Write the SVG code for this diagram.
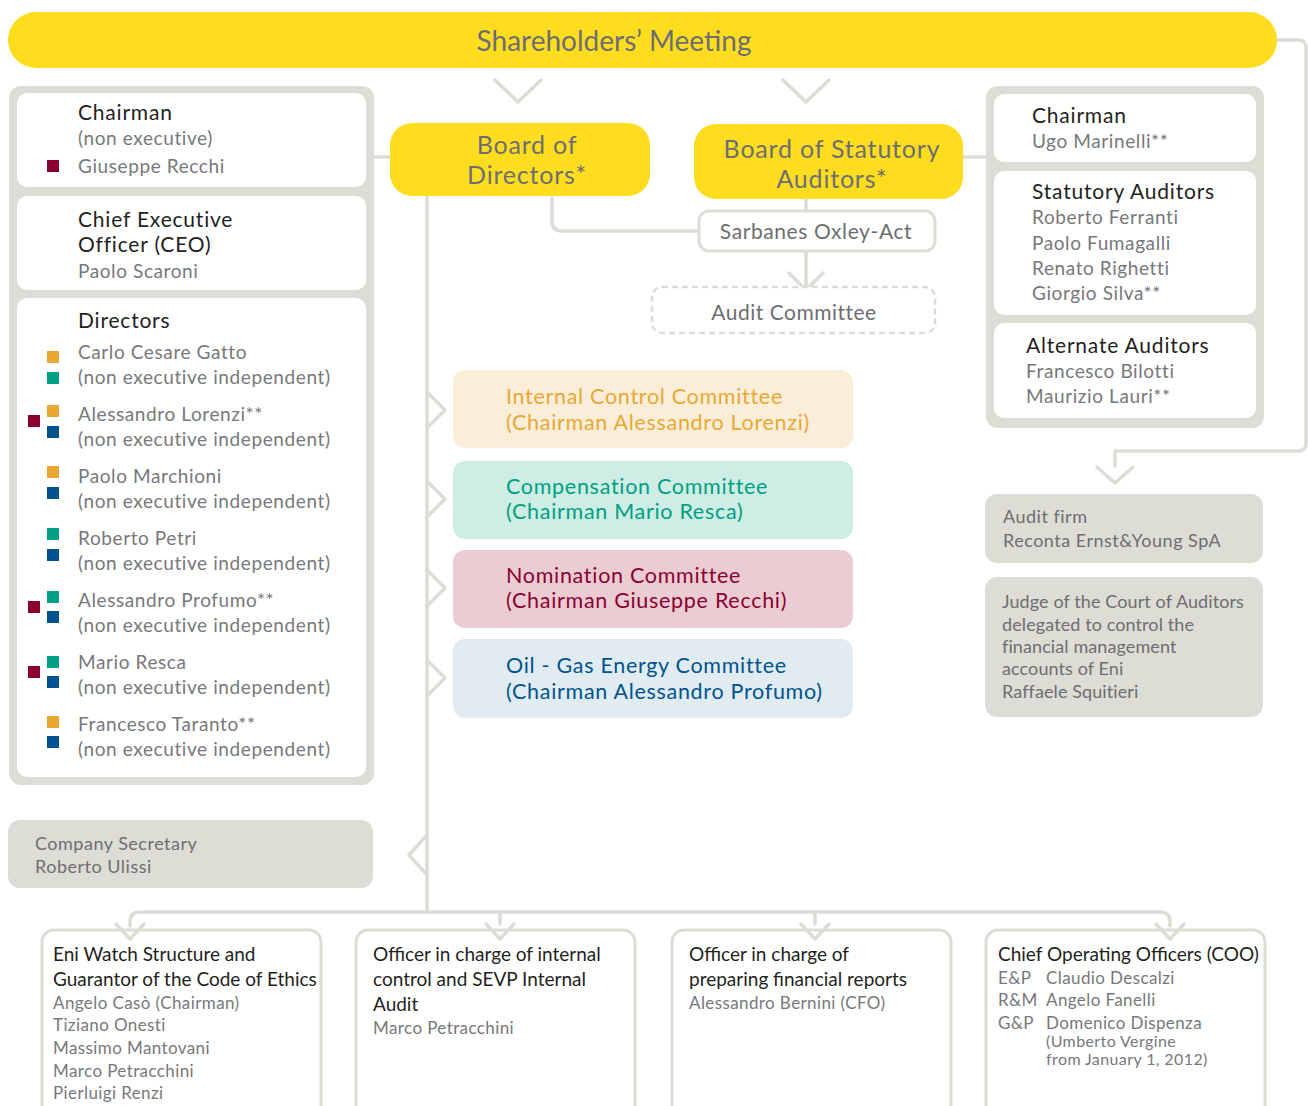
<svg xmlns="http://www.w3.org/2000/svg" width="1308" height="1106" viewBox="0 0 1308 1106">
<style>
text{font-family:Lato,"Open Sans","Liberation Sans",sans-serif}
.line{fill:none;stroke:#DDDCD5;stroke-width:3.5;stroke-linecap:round;stroke-linejoin:round}
.chev{fill:none;stroke:#DDDCD5;stroke-width:3.5;stroke-linecap:round;stroke-linejoin:round}
.yel{fill:#FEDD1F}
.ytxt{fill:#6D6E71;font-size:25px;letter-spacing:0.8px;text-anchor:middle}
.panel{fill:#DDDCD5}
.inner{fill:#FFFFFF}
.hd{fill:#231F20;font-size:21px;letter-spacing:0.8px}
.nm{fill:#77787B;font-size:19px;letter-spacing:0.6px}
.bhd{fill:#231F20;font-size:19px}
.bnm{fill:#77787B;font-size:17px;letter-spacing:0.4px}
.gtx{fill:#6D6E71;font-size:18px;letter-spacing:0.5px}
.jtx{fill:#6D6E71;font-size:18px;letter-spacing:0.1px}
.bbox{fill:#FFFFFF;stroke:#DDDCD5;stroke-width:3}
.sq-r{fill:#8C0030}.sq-o{fill:#E8A833}.sq-t{fill:#00A082}.sq-b{fill:#00538E}
.ctx{font-size:21.5px;letter-spacing:0.7px}
.sm{font-size:16px}
</style>

<g id="connectors">
  <path class="line" d="M1277,40 L1298,40 Q1306,40 1306,48 L1306,443 Q1306,451 1298,451 L1115,451 L1115,466"/>
  <polyline class="chev" points="1097,467 1115,483 1133,467"/>
  <polyline class="chev" points="495,80 518,102 541,80"/>
  <polyline class="chev" points="783,80 806,102 829,80"/>
  <line class="line" x1="373" y1="157" x2="390" y2="157"/>
  <line class="line" x1="963" y1="157" x2="987" y2="157"/>
  <path class="line" d="M552,198 L552,221 Q552,231 562,231 L699,231"/>
  <line class="line" x1="806" y1="199" x2="806" y2="211"/>
  <line class="line" x1="806" y1="252" x2="806" y2="287"/>
  <polyline class="chev" points="789,273 806,290 823,273"/>
  <line class="line" x1="427" y1="197" x2="427" y2="912"/>
  <polyline class="chev" points="427,392 445,410 427,428"/>
  <polyline class="chev" points="427,481 445,499 427,517"/>
  <polyline class="chev" points="427,570 445,588 427,606"/>
  <polyline class="chev" points="427,660 445,678 427,696"/>
  <polyline class="chev" points="426,836 409,855 426,874"/>
  <path class="line" d="M130,926 L130,922 Q130,912 140,912 L1160,912 Q1170,912 1170,922 L1170,926"/>
  <line class="line" x1="500" y1="912" x2="500" y2="924"/>
  <line class="line" x1="815" y1="912" x2="815" y2="924"/>
</g>

<g id="shareholders">
  <rect class="yel" x="8" y="12" width="1269" height="56" rx="28"/>
  <text class="ytxt" x="614" y="51" style="font-size:28px;letter-spacing:0">Shareholders’ Meeting</text>
</g>

<g id="board-members">
  <rect class="panel" x="9" y="86" width="365" height="699" rx="12"/>
  <rect class="inner" x="17" y="93" width="349" height="94" rx="10"/>
  <rect class="inner" x="17" y="196" width="349" height="94" rx="10"/>
  <rect class="inner" x="17" y="298" width="349" height="479" rx="10"/>
  <text class="hd" x="78" y="120">Chairman</text>
  <text class="nm" x="78" y="145">(non executive)</text>
  <rect class="sq-r" x="47" y="160" width="12" height="12"/>
  <text class="nm" x="78" y="173">Giuseppe Recchi</text>
  <text class="hd" x="78" y="227">Chief Executive</text>
  <text class="hd" x="78" y="252">Officer (CEO)</text>
  <text class="nm" x="78" y="278">Paolo Scaroni</text>
  <text class="hd" x="78" y="328">Directors</text>

  <rect class="sq-o" x="47" y="351" width="12" height="12"/>
  <rect class="sq-t" x="47" y="372" width="12" height="12"/>
  <text class="nm" x="78" y="359">Carlo Cesare Gatto</text>
  <text class="nm" x="78" y="384">(non executive independent)</text>

  <rect class="sq-r" x="28" y="415" width="12" height="12"/>
  <rect class="sq-o" x="47" y="405" width="12" height="12"/>
  <rect class="sq-b" x="47" y="426" width="12" height="12"/>
  <text class="nm" x="78" y="421">Alessandro Lorenzi**</text>
  <text class="nm" x="78" y="446">(non executive independent)</text>

  <rect class="sq-o" x="47" y="466" width="12" height="12"/>
  <rect class="sq-b" x="47" y="487" width="12" height="12"/>
  <text class="nm" x="78" y="483">Paolo Marchioni</text>
  <text class="nm" x="78" y="508">(non executive independent)</text>

  <rect class="sq-t" x="47" y="528" width="12" height="12"/>
  <rect class="sq-b" x="47" y="549" width="12" height="12"/>
  <text class="nm" x="78" y="545">Roberto Petri</text>
  <text class="nm" x="78" y="570">(non executive independent)</text>

  <rect class="sq-r" x="28" y="601" width="12" height="12"/>
  <rect class="sq-t" x="47" y="591" width="12" height="12"/>
  <rect class="sq-b" x="47" y="611" width="12" height="12"/>
  <text class="nm" x="78" y="607">Alessandro Profumo**</text>
  <text class="nm" x="78" y="632">(non executive independent)</text>

  <rect class="sq-r" x="28" y="666" width="12" height="12"/>
  <rect class="sq-t" x="47" y="656" width="12" height="12"/>
  <rect class="sq-b" x="47" y="676" width="12" height="12"/>
  <text class="nm" x="78" y="669">Mario Resca</text>
  <text class="nm" x="78" y="694">(non executive independent)</text>

  <rect class="sq-o" x="47" y="716" width="12" height="12"/>
  <rect class="sq-b" x="47" y="736" width="12" height="12"/>
  <text class="nm" x="78" y="731">Francesco Taranto**</text>
  <text class="nm" x="78" y="756">(non executive independent)</text>
</g>

<g id="company-secretary">
  <rect class="panel" x="8" y="820" width="365" height="68" rx="12"/>
  <text class="gtx" x="35" y="850">Company Secretary</text>
  <text class="gtx" x="35" y="873">Roberto Ulissi</text>
</g>

<g id="board-of-directors">
  <rect class="yel" x="390" y="123" width="260" height="73" rx="22"/>
  <text class="ytxt" x="527" y="154">Board of</text>
  <text class="ytxt" x="527" y="184">Directors*</text>
</g>

<g id="board-of-statutory-auditors">
  <rect class="yel" x="694" y="124" width="269" height="75" rx="22"/>
  <text class="ytxt" x="832" y="158">Board of Statutory</text>
  <text class="ytxt" x="832" y="188">Auditors*</text>
</g>

<g id="sarbanes">
  <rect fill="#FFFFFF" stroke="#DDDCD5" stroke-width="3" x="699" y="211" width="236" height="40" rx="10"/>
  <text x="816" y="239" fill="#6D6E71" font-size="21" letter-spacing="0.6" text-anchor="middle">Sarbanes Oxley-Act</text>
</g>

<g id="audit-committee">
  <rect fill="#FFFFFF" stroke="#DDDCD5" stroke-width="2.5" stroke-dasharray="6,4" x="652" y="287" width="283" height="46" rx="10"/>
  <text x="794" y="320" fill="#6D6E71" font-size="21" letter-spacing="0.5" text-anchor="middle">Audit Committee</text>
</g>

<g id="internal-control-committee">
  <rect fill="#FBEED8" x="453" y="370" width="400" height="78" rx="12"/>
  <text class="ctx" x="506" y="404" fill="#E8A833">Internal Control Committee</text>
  <text class="ctx" x="506" y="430" fill="#E8A833">(Chairman Alessandro Lorenzi)</text>
</g>
<g id="compensation-committee">
  <rect fill="#CDEDE5" x="453" y="461" width="400" height="78" rx="12"/>
  <text class="ctx" x="506" y="494" fill="#00A082">Compensation Committee</text>
  <text class="ctx" x="506" y="519" fill="#00A082">(Chairman Mario Resca)</text>
</g>
<g id="nomination-committee">
  <rect fill="#EBCCD3" x="453" y="550" width="400" height="78" rx="12"/>
  <text class="ctx" x="506" y="583" fill="#8C0030">Nomination Committee</text>
  <text class="ctx" x="506" y="608" fill="#8C0030">(Chairman Giuseppe Recchi)</text>
</g>
<g id="oil-gas-committee">
  <rect fill="#E1EBF2" x="453" y="639" width="400" height="79" rx="12"/>
  <text class="ctx" x="506" y="673" fill="#00538E">Oil - Gas Energy Committee</text>
  <text class="ctx" x="506" y="699" fill="#00538E">(Chairman Alessandro Profumo)</text>
</g>

<g id="statutory-members">
  <rect class="panel" x="986" y="86" width="278" height="342" rx="12"/>
  <rect class="inner" x="994" y="94" width="262" height="68" rx="10"/>
  <rect class="inner" x="994" y="171" width="262" height="144" rx="10"/>
  <rect class="inner" x="994" y="323" width="262" height="95" rx="10"/>
  <text class="hd" x="1032" y="123">Chairman</text>
  <text class="nm" x="1032" y="148">Ugo Marinelli**</text>
  <text class="hd" x="1032" y="199">Statutory Auditors</text>
  <text class="nm" x="1032" y="224">Roberto Ferranti</text>
  <text class="nm" x="1032" y="250">Paolo Fumagalli</text>
  <text class="nm" x="1032" y="275">Renato Righetti</text>
  <text class="nm" x="1032" y="300">Giorgio Silva**</text>
  <text class="hd" x="1026" y="353">Alternate Auditors</text>
  <text class="nm" x="1026" y="378">Francesco Bilotti</text>
  <text class="nm" x="1026" y="403">Maurizio Lauri**</text>
</g>

<g id="audit-firm">
  <rect class="panel" x="985" y="494" width="278" height="69" rx="12"/>
  <text class="gtx" x="1003" y="523">Audit firm</text>
  <text class="gtx" x="1003" y="547">Reconta Ernst&amp;Young SpA</text>
</g>

<g id="court-of-auditors">
  <rect class="panel" x="985" y="577" width="278" height="140" rx="12"/>
  <text class="jtx" x="1002" y="608">Judge of the Court of Auditors</text>
  <text class="jtx" x="1002" y="631">delegated to control the</text>
  <text class="jtx" x="1002" y="653">financial management</text>
  <text class="jtx" x="1002" y="675">accounts of Eni</text>
  <text class="jtx" x="1002" y="698">Raffaele Squitieri</text>
</g>

<g id="eni-watch">
  <rect class="bbox" x="42" y="930" width="279" height="190" rx="12"/>
  <polyline class="chev" points="116,924 130,939 144,924"/>
  <text class="bhd" x="53" y="961">Eni Watch Structure and</text>
  <text class="bhd" x="53" y="986">Guarantor of the Code of Ethics</text>
  <text class="bnm" x="53" y="1009">Angelo Casò (Chairman)</text>
  <text class="bnm" x="53" y="1031">Tiziano Onesti</text>
  <text class="bnm" x="53" y="1054">Massimo Mantovani</text>
  <text class="bnm" x="53" y="1077">Marco Petracchini</text>
  <text class="bnm" x="53" y="1099">Pierluigi Renzi</text>
</g>

<g id="internal-audit-officer">
  <rect class="bbox" x="356" y="930" width="279" height="190" rx="12"/>
  <polyline class="chev" points="486,924 500,939 514,924"/>
  <text class="bhd" x="373" y="961">Officer in charge of internal</text>
  <text class="bhd" x="373" y="986">control and SEVP Internal</text>
  <text class="bhd" x="373" y="1011">Audit</text>
  <text class="bnm" x="373" y="1034">Marco Petracchini</text>
</g>

<g id="financial-reports-officer">
  <rect class="bbox" x="672" y="930" width="279" height="190" rx="12"/>
  <polyline class="chev" points="801,924 815,939 829,924"/>
  <text class="bhd" x="689" y="961">Officer in charge of</text>
  <text class="bhd" x="689" y="986">preparing financial reports</text>
  <text class="bnm" x="689" y="1009">Alessandro Bernini (CFO)</text>
</g>

<g id="coo">
  <rect class="bbox" x="986" y="930" width="279" height="190" rx="12"/>
  <polyline class="chev" points="1156,924 1170,939 1184,924"/>
  <text class="bhd" x="998" y="961">Chief Operating Officers (COO)</text>
  <text class="bnm" x="998" y="984">E&amp;P</text>
  <text class="bnm" x="1046" y="984">Claudio Descalzi</text>
  <text class="bnm" x="998" y="1006">R&amp;M</text>
  <text class="bnm" x="1046" y="1006">Angelo Fanelli</text>
  <text class="bnm" x="998" y="1029">G&amp;P</text>
  <text class="bnm" x="1046" y="1029">Domenico Dispenza</text>
  <text class="bnm sm" x="1046" y="1047">(Umberto Vergine</text>
  <text class="bnm sm" x="1046" y="1065">from January 1, 2012)</text>
</g>
</svg>
